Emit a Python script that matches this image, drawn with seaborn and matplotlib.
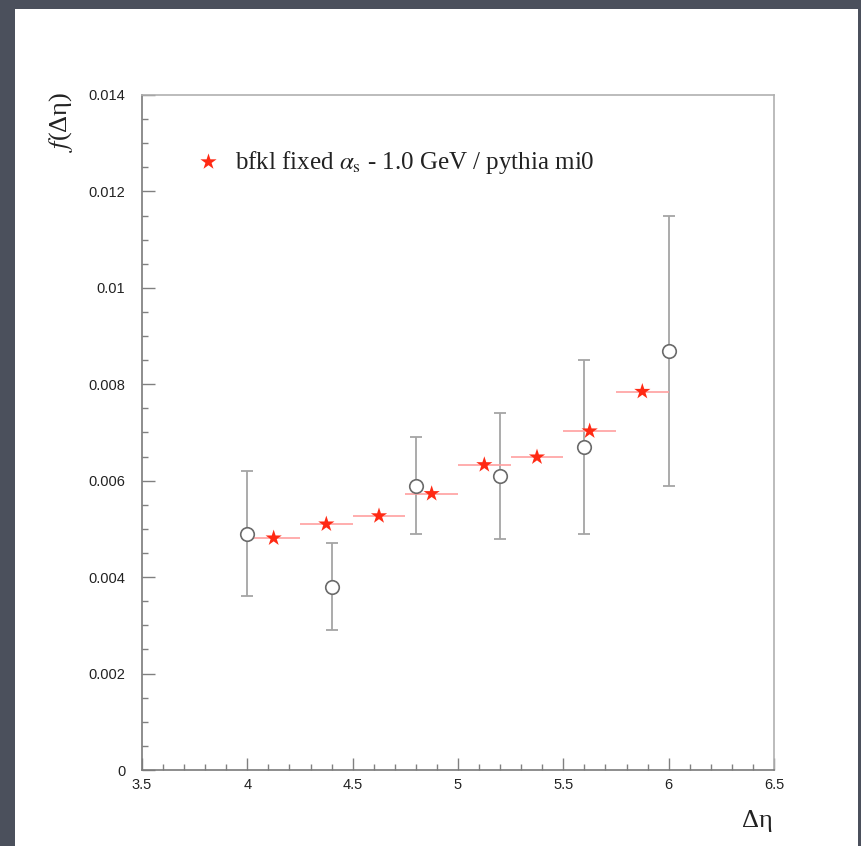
import matplotlib
matplotlib.use("Agg")
import matplotlib.pyplot as plt
from matplotlib.patches import Rectangle
from matplotlib.ticker import MultipleLocator, FixedLocator, FixedFormatter
import seaborn as sns
import pandas as pd

# ---- data ----
data_x = [4.0, 4.4, 4.8, 5.2, 5.6, 6.0]
data_y = [0.0049, 0.0038, 0.0059, 0.0061, 0.0067, 0.0087]
data_lo = [0.0036, 0.0029, 0.0049, 0.0048, 0.0049, 0.0059]
data_hi = [0.0062, 0.0047, 0.0069, 0.0074, 0.0085, 0.0115]

bfkl_x = [4.125, 4.375, 4.625, 4.875, 5.125, 5.375, 5.625, 5.875]
bfkl_y = [0.00481, 0.00510, 0.00527, 0.00573, 0.00633, 0.00649, 0.00703, 0.00785]
bin_half = 0.125

yticks = [0, 0.002, 0.004, 0.006, 0.008, 0.010, 0.012, 0.014]
ytick_labels = ["0", "0.002", "0.004", "0.006", "0.008", "0.01", "0.012", "0.014"]
xticks = [3.5, 4, 4.5, 5, 5.5, 6, 6.5]
xtick_labels = ["3.5", "4", "4.5", "5", "5.5", "6", "6.5"]
legend_label = r"bfkl fixed $\alpha_{\mathrm{s}}$ - 1.0 GeV / pythia mi0"

sns.set_theme(style="white")
plt.rcParams["font.family"] = ["Liberation Sans", "DejaVu Sans"]
plt.rcParams["mathtext.fontset"] = "stix"

W, H = 862, 846
fig = plt.figure(figsize=(W / 100, H / 100), dpi=100)
fig.patch.set_facecolor("#4b505c")
fig.patches.append(Rectangle((15 / W, 0), (858 - 15) / W, (846 - 9) / H,
                             transform=fig.transFigure, facecolor="white",
                             edgecolor="none", zorder=-10))

ax = fig.add_axes([142 / W, (H - 770) / H, (774 - 142) / W, (770 - 95) / H])
ax.set_facecolor("white")
ax.set_zorder(5)

df_data = pd.DataFrame({"x": data_x, "y": data_y})
df_bfkl = pd.DataFrame({"x": bfkl_x, "y": bfkl_y})

# error bars for data
yerr = [[y - lo for y, lo in zip(data_y, data_lo)],
        [hi - y for y, hi in zip(data_y, data_hi)]]
ax.errorbar(data_x, data_y, yerr=yerr, fmt="none", ecolor="#a5a5a5",
            elinewidth=1.3, capsize=4.5, capthick=1.3, zorder=2)
# bin widths for bfkl
ax.errorbar(bfkl_x, bfkl_y, xerr=bin_half, fmt="none", ecolor="#ffa0a0",
            elinewidth=1.2, capsize=0, zorder=3)

sns.scatterplot(data=df_data, x="x", y="y", ax=ax, marker="o", s=95,
                facecolor="white", edgecolor="#6a6a6a", linewidth=1.2,
                zorder=4, legend=False)
sns.scatterplot(data=df_bfkl, x="x", y="y", ax=ax, marker="*", s=150,
                color="#ff2a14", edgecolor="none", linewidth=0,
                zorder=5, label=legend_label)

ax.set_xlim(3.5, 6.5)
ax.set_ylim(0, 0.014)
ax.xaxis.set_major_locator(FixedLocator(xticks))
ax.xaxis.set_major_formatter(FixedFormatter(xtick_labels))
ax.yaxis.set_major_locator(FixedLocator(yticks))
ax.yaxis.set_major_formatter(FixedFormatter(ytick_labels))
ax.xaxis.set_minor_locator(MultipleLocator(0.1))
ax.yaxis.set_minor_locator(MultipleLocator(0.0005))
ax.tick_params(which="both", direction="in", colors="#808080",
               labelcolor="#222222", labelsize=10.5, top=False, right=False,
               bottom=True, left=True)
ax.tick_params(which="major", length=9, width=1)
ax.tick_params(which="minor", length=4.5, width=1)
ax.tick_params(axis="x", pad=6)
ax.tick_params(axis="y", pad=12)
for side in ["left", "bottom"]:
    ax.spines[side].set_color("#7a7a7a")
    ax.spines[side].set_linewidth(1.2)
for side in ["top", "right"]:
    ax.spines[side].set_color("#b0b0b0")
    ax.spines[side].set_linewidth(1.2)
ax.set_xlabel("")
ax.set_ylabel("")

fig.text(61 / W, (H - 92) / H, r"$f$(Δη)", rotation=90,
         ha="center", va="top", fontsize=19, family="Liberation Serif",
         color="#222222")
fig.text(773 / W, (H - 832) / H, "Δη", ha="right", va="bottom",
         fontsize=19, family="Liberation Serif", color="#222222")

leg = ax.legend(loc="center left", bbox_to_anchor=((196 - 142) / 632, (770 - 162) / 675),
                frameon=False, handlelength=1.0, handletextpad=0.55,
                borderpad=0, borderaxespad=0,
                prop={"family": "Liberation Serif", "size": 18})
for t in leg.get_texts():
    t.set_color("#222222")

fig.savefig("out.png", dpi=100, facecolor=fig.get_facecolor())
